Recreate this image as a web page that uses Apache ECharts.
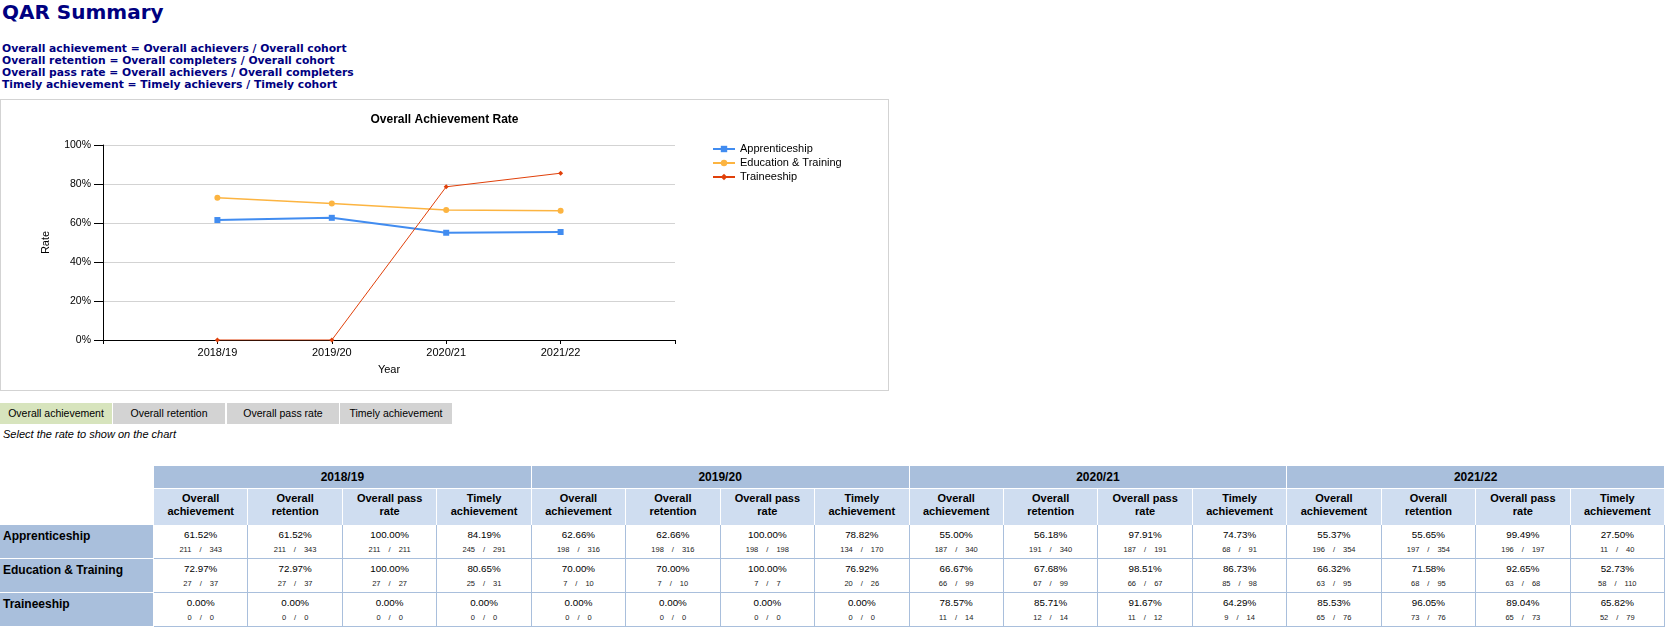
<!DOCTYPE html>
<html>
<head>
<meta charset="utf-8">
<script src="https://cdn.jsdelivr.net/npm/echarts@6/dist/echarts.min.js"></script>
<style>
  html, body { margin: 0; padding: 0; background: #fff; }
  body { width: 1673px; height: 638px; position: relative; overflow: hidden; font-family: "Liberation Sans", Arial, sans-serif; }
  .abs { position: absolute; }
  #pageTitle { left: 2px; top: 0px; font: bold 20px/24px "DejaVu Sans", Verdana, sans-serif; color: #000080; }
  #formulas { left: 2px; top: 43px; font: bold 10.75px/12px "DejaVu Sans", Verdana, sans-serif; color: #000080; white-space: pre; }
  #chartBox { left: 0; top: 99px; width: 889px; height: 292px; box-sizing: border-box; border: 1px solid #d3d3d3; }
  #chart { left: 1px; top: 100px; width: 887px; height: 290px; }
  .btn { top: 403px; height: 21px; width: 112px; font-size: 10.5px; line-height: 21px; text-align: center; color: #000; background: #d3d3d3; }
  #hint { left: 3px; top: 427px; font: italic 11px/14px "Liberation Sans", Arial, sans-serif; color: #000; }
  .cell { position: absolute; box-sizing: border-box; text-align: center; color: #000; }
</style>
</head>
<body>
<div id="pageTitle" class="abs">QAR Summary</div>
<div id="formulas" class="abs"></div>
<div id="chartBox" class="abs"></div>
<div id="chart" class="abs"></div>
<div id="buttons"></div>
<div id="hint" class="abs">Select the rate to show on the chart</div>
<div id="table"></div>
<script>
// ---------------- data ----------------
const formulaLines = [
  'Overall achievement = Overall achievers / Overall cohort',
  'Overall retention = Overall completers / Overall cohort',
  'Overall pass rate = Overall achievers / Overall completers',
  'Timely achievement = Timely achievers / Timely cohort'
];
const years = ['2018/19', '2019/20', '2020/21', '2021/22'];
const programmes = ['Apprenticeship', 'Education & Training', 'Traineeship'];
const metrics = ['Overall achievement', 'Overall retention', 'Overall pass rate', 'Timely achievement'];
const metricHeaderLines = [['Overall', 'achievement'], ['Overall', 'retention'], ['Overall pass', 'rate'], ['Timely', 'achievement']];
const yTicks = [0, 20, 40, 60, 80, 100];

// values per programme, year by year, 4 metrics per year (order as metrics)
const apprenticeshipRates = [61.52, 61.52, 100.00, 84.19,  62.66, 62.66, 100.00, 78.82,  55.00, 56.18, 97.91, 74.73,  55.37, 55.65, 99.49, 27.50];
const apprenticeshipNums  = [211, 211, 211, 245,  198, 198, 198, 134,  187, 191, 187, 68,  196, 197, 196, 11];
const apprenticeshipDens  = [343, 343, 211, 291,  316, 316, 198, 170,  340, 340, 191, 91,  354, 354, 197, 40];

const educationRates = [72.97, 72.97, 100.00, 80.65,  70.00, 70.00, 100.00, 76.92,  66.67, 67.68, 98.51, 86.73,  66.32, 71.58, 92.65, 52.73];
const educationNums  = [27, 27, 27, 25,  7, 7, 7, 20,  66, 67, 66, 85,  63, 68, 63, 58];
const educationDens  = [37, 37, 27, 31,  10, 10, 7, 26,  99, 99, 67, 98,  95, 95, 68, 110];

const traineeshipRates = [0.00, 0.00, 0.00, 0.00,  0.00, 0.00, 0.00, 0.00,  78.57, 85.71, 91.67, 64.29,  85.53, 96.05, 89.04, 65.82];
const traineeshipNums  = [0, 0, 0, 0,  0, 0, 0, 0,  11, 12, 11, 9,  65, 73, 65, 52];
const traineeshipDens  = [0, 0, 0, 0,  0, 0, 0, 0,  14, 14, 12, 14,  76, 76, 73, 79];

const seriesColors = ['#418cf0', '#fcb441', '#e0400a'];
// ---------------------------------------

document.getElementById('formulas').textContent = formulaLines.join('\n');

// buttons
const btnWrap = document.getElementById('buttons');
const btnLefts = [0, 113, 227, 340];
metrics.forEach((m, i) => {
  const d = document.createElement('div');
  d.className = 'abs btn';
  d.style.left = btnLefts[i] + 'px';
  if (i === 0) d.style.background = '#d7e4bd';
  d.textContent = m;
  btnWrap.appendChild(d);
});

// table
const rates = [apprenticeshipRates, educationRates, traineeshipRates];
const nums = [apprenticeshipNums, educationNums, traineeshipNums];
const dens = [apprenticeshipDens, educationDens, traineeshipDens];
const tbl = document.getElementById('table');
const x0 = 154, colW = (1665 - 154) / 16;
const hdrDark = '#a9bfdc', hdrLight = '#cfddf0', lineBlue = '#a9bfdc';
function cell(left, top, w, h, style, html) {
  const d = document.createElement('div');
  d.className = 'cell';
  d.style.left = left + 'px'; d.style.top = top + 'px';
  d.style.width = w + 'px'; d.style.height = h + 'px';
  Object.assign(d.style, style);
  d.innerHTML = html;
  tbl.appendChild(d);
  return d;
}
years.forEach((y, yi) => {
  cell(x0 + yi * 4 * colW, 466, 4 * colW, 22,
    { background: hdrDark, borderRight: '1px solid #fff', font: 'bold 12px/22px "Liberation Sans", Arial, sans-serif' }, y);
  metricHeaderLines.forEach((ls, mi) => {
    cell(x0 + (yi * 4 + mi) * colW, 488, colW, 37,
      { background: hdrLight, borderRight: '1px solid #fff', borderTop: '1px solid #fff', font: 'bold 11px/13.3px "Liberation Sans", Arial, sans-serif', paddingTop: '3px' },
      ls.join('<br>'));
  });
});
programmes.forEach((p, pi) => {
  const top = 525 + pi * 34;
  const h = 34;
  cell(0, top, 154, h, { background: hdrDark, borderBottom: '1px solid #fff', borderRight: '1px solid #fff', textAlign: 'left', paddingLeft: '3px', paddingTop: '3px', font: 'bold 12px/16px "Liberation Sans", Arial, sans-serif' }, p.replace('&', '&amp;'));
  for (let k = 0; k < 16; k++) {
    const html = '<div style="font:9.8px/12px \'Liberation Sans\', Arial, sans-serif;padding-top:4px">' + rates[pi][k].toFixed(2) + '%</div>' +
      '<div style="font:7.5px/10px \'Liberation Sans\', Arial, sans-serif;color:#222;margin-top:4px">' + nums[pi][k] + '<span style="margin:0 8px">/</span>' + dens[pi][k] + '</div>';
    cell(x0 + k * colW, top, colW, h, { borderRight: '1px solid ' + lineBlue, borderBottom: '1px solid ' + lineBlue }, html);
  }
});

// chart
const chart = echarts.init(document.getElementById('chart'), null, { renderer: 'canvas' });
const symbols = ['rect', 'circle', 'diamond'];
const symbolSizes = [6, 6, 5];
const lineWidths = [2, 1.5, 1];
const series = programmes.map((p, pi) => ({
  name: p,
  type: 'line',
  data: years.map((y, yi) => [yi + 1, rates[pi][yi * 4]]),
  symbol: symbols[pi],
  symbolSize: symbolSizes[pi],
  showAllSymbol: true,
  color: seriesColors[pi],
  lineStyle: { width: lineWidths[pi], color: seriesColors[pi] },
  itemStyle: { color: seriesColors[pi] },
  emphasis: { disabled: true }
}));
chart.setOption({
  animation: false,
  title: {
    text: 'Overall Achievement Rate', left: 'center', top: 9,
    textStyle: { fontFamily: '"Liberation Sans", Arial, sans-serif', fontSize: 12, fontWeight: 'bold', color: '#000' }
  },
  legend: {
    orient: 'vertical', left: 706, top: 38, itemWidth: 22, itemHeight: 8, itemGap: 2,
    textStyle: { fontFamily: '"Liberation Sans", Arial, sans-serif', fontSize: 11, color: '#000', lineHeight: 12 },
    data: programmes
  },
  grid: { left: 102, top: 45, width: 572, height: 195, containLabel: false },
  xAxis: {
    type: 'value', min: 0, max: 5, interval: 1,
    name: 'Year', nameLocation: 'middle', nameGap: 24,
    nameTextStyle: { fontFamily: '"Liberation Sans", Arial, sans-serif', fontSize: 11, color: '#000' },
    axisLine: { show: true, onZero: false, lineStyle: { color: '#000', width: 1 } },
    axisTick: { show: true, length: 4, lineStyle: { color: '#000' } },
    axisLabel: { color: '#000', fontSize: 11, fontFamily: '"Liberation Sans", Arial, sans-serif', margin: 7,
      formatter: v => years[v - 1] || '' , showMinLabel: true, showMaxLabel: true },
    splitLine: { show: false }
  },
  yAxis: {
    type: 'value', min: yTicks[0], max: yTicks[yTicks.length - 1], interval: yTicks[1] - yTicks[0],
    name: 'Rate', nameLocation: 'middle', nameGap: 52,
    nameTextStyle: { fontFamily: '"Liberation Sans", Arial, sans-serif', fontSize: 11, color: '#000' },
    axisLine: { show: true, lineStyle: { color: '#000', width: 1 } },
    axisTick: { show: true, length: 9, lineStyle: { color: '#000' } },
    axisLabel: { color: '#000', fontSize: 10.5, fontFamily: '"Liberation Sans", Arial, sans-serif', margin: 12, formatter: '{value}%' },
    splitLine: { show: true, lineStyle: { color: '#d3d3d3', width: 1 } }
  },
  series: series
});
</script>
</body>
</html>
